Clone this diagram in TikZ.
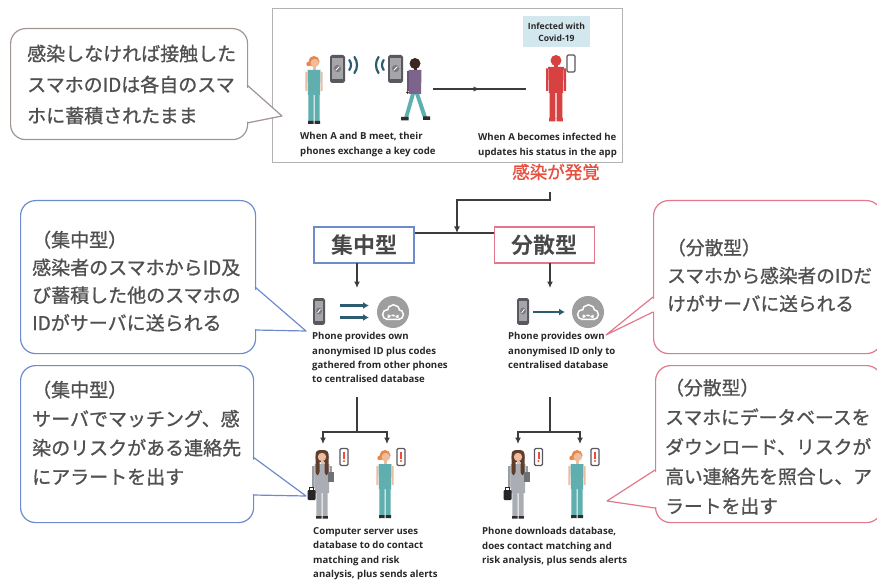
\documentclass[tikz,border=0pt]{standalone}
\usepackage{fontspec}
\newfontfamily\jp{Noto Sans CJK JP}[FakeBold=1.0]
\newfontfamily\jpbold{Noto Sans CJK JP Bold}
\newfontfamily\en{Open Sans}
\usetikzlibrary{arrows.meta,decorations.markings}

\definecolor{ink}{RGB}{80,80,80}
\definecolor{capink}{RGB}{40,40,40}
\definecolor{connline}{RGB}{60,60,60}
\definecolor{blueline}{RGB}{110,140,205}
\definecolor{pinkline}{RGB}{225,120,140}
\definecolor{greyline}{RGB}{160,150,145}
\definecolor{framegrey}{RGB}{178,178,178}
\definecolor{alertred}{RGB}{232,78,62}
\definecolor{figteal}{RGB}{95,175,175}
\definecolor{iconblue}{RGB}{45,92,112}
\definecolor{cloudgrey}{RGB}{158,158,158}
\definecolor{phonegrey}{RGB}{88,88,94}
\definecolor{screengrey}{RGB}{165,165,170}
\definecolor{covidred}{RGB}{215,65,65}
\definecolor{labelblue}{RGB}{210,232,238}
\definecolor{skin}{RGB}{238,188,158}
\definecolor{hairorange}{RGB}{235,135,70}
\definecolor{hairbrown}{RGB}{95,62,45}
\definecolor{hairdark}{RGB}{60,40,32}
\definecolor{shirtpurple}{RGB}{125,100,140}
\definecolor{suitgrey}{RGB}{170,174,180}
\definecolor{shoe}{RGB}{45,45,45}

\tikzset{
  conn/.style={draw=connline, line width=1.5},
  arrowed/.style={-{Latex[length=6.5pt,width=6pt]}},
  bluearrow/.style={iconblue, line width=2.6, -{Latex[length=6pt,width=7pt]}},
  balloon/.style={draw=#1, line width=1.2, rounded corners=15, fill=white,
    inner sep=0, anchor=north west},
  balloontext/.style={font=\jp\fontsize{19}{29}\selectfont, text=ink,
    align=left, inner sep=0, anchor=north west},
  caption/.style={font=\en\bfseries\fontsize{9.6}{14.2}\selectfont, text=capink,
    align=left, inner sep=0, anchor=north west},
  headbox/.style={draw=#1, line width=1.5, minimum width=100, minimum height=36,
    fill=white, font=\jpbold\fontsize{22}{22}\selectfont, text=ink!90!black, inner sep=0},
  wave/.style={iconblue, line width=2.2, line cap=round},
  % smartphone with a tracing-app logo, centred on its origin
  handset/.pic={
    \fill[phonegrey, rounded corners=1.8] (-7.5,-14) rectangle (7.5,14);
    \fill[screengrey] (-5.5,-10.5) rectangle (5.5,10);
    \fill[phonegrey!80] (0,-0.5) circle (3.6);
    \draw[white, line width=0.9] (-1.8,1.3) -- (1.8,-2.3);
  },
  % small phone showing an alert
  alertphone/.pic={
    \draw[phonegrey, fill=white, line width=1.2, rounded corners=1.2] (-4,-8.5) rectangle (4,8.5);
    \fill[alertred] (-1,-5) rectangle (1,1.8);
    \fill[alertred] (0,4) circle (1.1);
  },
  % small blank phone
  plainphone/.pic={
    \draw[phonegrey, fill=white, line width=1.2, rounded corners=1.2] (-4,-8.5) rectangle (4,8.5);
  },
  % cloud database icon
  cloudicon/.pic={
    \fill[cloudgrey] (0,0) circle (16);
    \begin{scope}[shift={(0,1)}]
      \draw[white, line width=3.2] (-5.5,1.5) circle (4) (0.5,-1.8) circle (5.5)
        (5.5,1.5) circle (4) (-5.5,1.5) rectangle (5.5,5.5);
      \fill[cloudgrey] (-5.5,1.5) circle (4) (0.5,-1.8) circle (5.5)
        (5.5,1.5) circle (4) (-5.5,1.5) rectangle (5.5,5.5);
    \end{scope}
  },
  % standing woman in teal
  personteal/.pic={
    \fill[hairorange] (0,5.5) circle (5.5);
    \fill[hairorange] (-5.5,8) circle (2.2);
    \fill[skin] (0.8,7) circle (4.2);
    \fill[skin] (-1.5,10.5) rectangle (1.5,14.5);
    \fill[skin] (-8.6,16) rectangle (-6.6,35) (6.6,16) rectangle (8.6,35);
    \fill[figteal] (-6.5,14) -- (6.5,14) -- (6,39) -- (-6,39) -- cycle;
    \fill[figteal] (-5.6,38) rectangle (-0.5,65) (0.5,38) rectangle (5.6,65);
    \fill[shoe] (-6,65) rectangle (-0.5,68) (0.5,65) rectangle (6,68);
  },
  % woman in a grey suit with handbag and tablet
  personsuit/.pic={
    \fill[hairbrown, rounded corners=4] (-6.5,0) rectangle (6.5,12);
    \fill[suitgrey!90!black] (-9.8,16) rectangle (-7.5,38) (7.5,16) rectangle (9.8,30);
    \fill[suitgrey] (-7.5,14) -- (7.5,14) -- (7,43) -- (-7,43) -- cycle;
    \fill[hairbrown, rounded corners=3] (-6.5,4) rectangle (-2.5,25) (2.5,4) rectangle (6.5,25);
    \fill[skin] (0,7) circle (4.2);
    \fill[skin] (-1.5,11) rectangle (1.5,14);
    \fill[suitgrey!65!black] (6,22) rectangle (11.5,32);
    \fill[suitgrey] (-5.6,42) rectangle (-0.5,66) (0.5,42) rectangle (5.6,66);
    \fill[shoe] (-5.8,66) rectangle (-0.5,68.5) (0.5,66) rectangle (5.8,68.5);
    \draw[black!85, line width=1.1] (-12.5,41) -- (-12.5,37.5) -- (-8.5,37.5) -- (-8.5,41);
    \fill[black!85, rounded corners=1] (-14.5,40) rectangle (-6.5,50);
  },
  % man walking
  walker/.pic={
    \fill[hairdark] (0,5.5) circle (5.5);
    \fill[hairdark] (-1.5,10.5) rectangle (1.5,14);
    \fill[figteal] (-3.5,34) -- (0.5,34) -- (-7,60) -- (-11,60) -- cycle;
    \fill[figteal] (-0.5,34) -- (3.5,34) -- (12,59) -- (8,60) -- cycle;
    \fill[shoe] (-14,59) rectangle (-6.5,62.5) (8,58.5) rectangle (15,62);
    \fill[shirtpurple] (-6.5,12) -- (6.5,12) -- (6,36) -- (-6,36) -- cycle;
    \fill[shirtpurple!85!black] (-8.5,13) rectangle (-6.5,33);
    \fill[hairdark] (-7.5,34.5) circle (1.4);
  },
  % infected person
  redman/.pic={
    \fill[covidred] (0,5.5) circle (5.5);
    \fill[covidred] (-2,10) rectangle (2,13);
    \fill[covidred] (-7.8,12) -- (7.8,12) -- (7.2,38) -- (-7.2,38) -- cycle;
    \fill[covidred] (-10,13.5) rectangle (-8,36) (8,13.5) rectangle (10,36);
    \fill[covidred] (-6.3,37) rectangle (-0.7,64) (0.7,37) rectangle (6.3,64);
    \fill[covidred] (-6.8,63) rectangle (-0.7,66.5) (0.7,63) rectangle (6.8,66.5);
  },
}

\begin{document}
\begin{tikzpicture}[x=1pt,y=-1pt]
\useasboundingbox (0,0) rectangle (877,585);
\clip (0,0) rectangle (877,585);
\fill[white] (0,0) rectangle (877,585);

% ---------- top panel: contact and infection ----------
\node[draw=framegrey, line width=1.3, fill=white, minimum width=350, minimum height=154,
  inner sep=0, anchor=north west] (panel) at (272,8) {};

\pic at (314,56) {personteal};
\pic at (337.5,69) {handset};
\pic at (395.5,69) {handset};
\pic at (415,58) {walker};
\draw[wave] (343,65) ++(-38:8) arc(-38:38:8);
\draw[wave] (343,65) ++(-35:14) arc(-35:35:14);
\draw[wave] (390,65) ++(142:8) arc(142:218:8);
\draw[wave] (390,65) ++(145:14) arc(145:215:14);

\coordinate (meetEnd) at (433,89);
\coordinate (infStart) at (526,89);
\draw[conn, postaction={decorate}, decoration={markings,
  mark=at position 0.5 with {\arrow{Latex[length=6pt,width=5.5pt]}}}] (meetEnd) -- (infStart);

\node[fill=labelblue, font=\en\bfseries\fontsize{8.6}{12}\selectfont, text=capink,
  align=center, minimum width=67, minimum height=31, inner sep=0] (inflabel) at (556.5,32)
  {Infected with\\Covid-19};
\pic at (556,55) {redman};
\pic at (571,63.5) {plainphone};

\node[caption, font=\en\bfseries\fontsize{9.6}{15}\selectfont] (meetcap) at (300,132.5)
  {When A and B meet, their\\phones exchange a key code};
\node[caption, font=\en\bfseries\fontsize{9.6}{15}\selectfont] (infcap) at (478,132.5)
  {When A becomes infected he\\updates his status in the app};

% ---------- top-left note ----------
\node[balloon=greyline, minimum width=237, minimum height=111] (noteTL) at (10,28) {};
\coordinate (tipTL) at (282,116);
\fill[white] (245,86) -- (tipTL) -- (245,122) -- cycle;
\draw[greyline, line width=1.2, line join=round] (247,85) -- (tipTL) -- (247,123);
\node[balloontext, font=\jp\fontsize{19}{31}\selectfont] (noteTLtext) at (27,44.5)
  {感染しなければ接触した\\スマホのIDは各自のスマ\\ホに蓄積されたまま};

% ---------- split into the two models ----------
\node[font=\jp\fontsize{17.5}{17.5}\selectfont, text=alertred, inner sep=0] (found) at (556,172) {感染が発覚};
\coordinate (foundFoot) at (550,192);
\coordinate (junction) at (457,233);
\node[headbox=blueline] (central) at (364,245) {集中型};
\node[headbox=pinkline] (decentral) at (544.5,245) {分散型};
\draw[conn] (central.east |- junction) -- (decentral.west |- junction);
\draw[conn, arrowed] (foundFoot) -- ++(0,8) -| (junction);

% ---------- centralised column ----------
\coordinate (cDown) at (357,263);
\coordinate (cArrive) at (357,288);
\draw[conn, arrowed] (cDown) -- (cArrive);
\pic at (319,311.5) [xscale=0.8, yscale=0.96] {handset};
\coordinate (cA1) at (340,305.5);
\coordinate (cB1) at (369,305.5);
\coordinate (cA2) at (340,317.5);
\coordinate (cB2) at (369,317.5);
\draw[bluearrow] (cA1) -- (cB1);
\draw[bluearrow] (cA2) -- (cB2);
\pic at (393,312) {cloudicon};
\node[caption] (centcap) at (312,332.5)
  {Phone provides own\\anonymised ID plus codes\\gathered from other phones\\to centralised database};

\coordinate (cStem) at (357,397);
\coordinate (cSplit) at (357,432);
\coordinate (cLeft) at (323,444);
\coordinate (cRight) at (387,444);
\draw[conn] (cStem) -- (cSplit);
\draw[conn, arrowed] (cSplit) -| (cLeft);
\draw[conn, arrowed] (cSplit) -| (cRight);
\pic at (322,450) {personsuit};
\pic at (344,457) {alertphone};
\pic at (385,450) {personteal};
\pic at (401,457) {alertphone};
\node[caption] (servercap) at (313,527.5)
  {Computer server uses\\database to do contact\\matching and risk\\analysis, plus sends alerts};

% ---------- decentralised column ----------
\coordinate (dDown) at (550,263);
\coordinate (dArrive) at (550,288);
\draw[conn, arrowed] (dDown) -- (dArrive);
\pic at (523,311.5) [xscale=0.8, yscale=0.96] {handset};
\coordinate (dA) at (533,312);
\coordinate (dB) at (565,312);
\draw[bluearrow] (dA) -- (dB);
\pic at (588,312) {cloudicon};
\node[caption] (decap) at (508,332.5)
  {Phone provides own\\anonymised ID only to\\centralised database};

\coordinate (dStem) at (550,397);
\coordinate (dSplit) at (550,432);
\coordinate (dLeft) at (518,444);
\coordinate (dRight) at (580,444);
\draw[conn] (dStem) -- (dSplit);
\draw[conn, arrowed] (dSplit) -| (dLeft);
\draw[conn, arrowed] (dSplit) -| (dRight);
\pic at (518,450) {personsuit};
\pic at (538.5,457) {alertphone};
\pic at (577,450) {personteal};
\pic at (595,457) {alertphone};
\node[caption] (downcap) at (482,527.5)
  {Phone downloads database,\\does contact matching and\\risk analysis, plus sends alerts};

% ---------- notes on the centralised model ----------
\node[balloon=blueline, minimum width=235, minimum height=153] (noteC1) at (20,200) {};
\coordinate (tipC1) at (306,331);
\fill[white] (253,288) -- (tipC1) -- (253,329) -- cycle;
\draw[blueline, line width=1.2, line join=round] (255,287) -- (tipC1) -- (255,330);
\node[balloontext, font=\jp\fontsize{19}{27.7}\selectfont] (noteC1text) at (32,230.5)
  {（集中型）\\感染者のスマホからID及\\び蓄積した他のスマホの\\IDがサーバに送られる};

\node[balloon=blueline, minimum width=233, minimum height=157] (noteC2) at (20,365) {};
\coordinate (tipC2) at (306,496);
\fill[white] (251,458) -- (tipC2) -- (251,494) -- cycle;
\draw[blueline, line width=1.2, line join=round] (253,457) -- (tipC2) -- (253,495);
\node[balloontext, font=\jp\fontsize{19}{29}\selectfont] (noteC2text) at (32,380.5)
  {（集中型）\\サーバでマッチング、感\\染のリスクがある連絡先\\にアラートを出す};

% ---------- notes on the decentralised model ----------
\node[balloon=pinkline, minimum width=228, minimum height=153] (noteD1) at (653,200) {};
\coordinate (tipD1) at (606,335);
\fill[white] (655,298) -- (tipD1) -- (655,311) -- cycle;
\draw[pinkline, line width=1.2, line join=round] (653,297) -- (tipD1) -- (653,312);
\node[balloontext, font=\jp\fontsize{18.7}{28}\selectfont] (noteD1text) at (667,238.5)
  {（分散型）\\スマホから感染者のIDだ\\けがサーバに送られる};

\node[balloon=pinkline, minimum width=226, minimum height=157] (noteD2) at (655,365) {};
\coordinate (tipD2) at (607,501);
\fill[white] (657,471) -- (tipD2) -- (657,507) -- cycle;
\draw[pinkline, line width=1.2, line join=round] (655,470) -- (tipD2) -- (655,508);
\node[balloontext, font=\jp\fontsize{18.8}{29.6}\selectfont] (noteD2text) at (665,378.5)
  {（分散型）\\スマホにデータベースを\\ダウンロード、リスクが\\高い連絡先を照合し、ア\\ラートを出す};
\end{tikzpicture}
\end{document}
